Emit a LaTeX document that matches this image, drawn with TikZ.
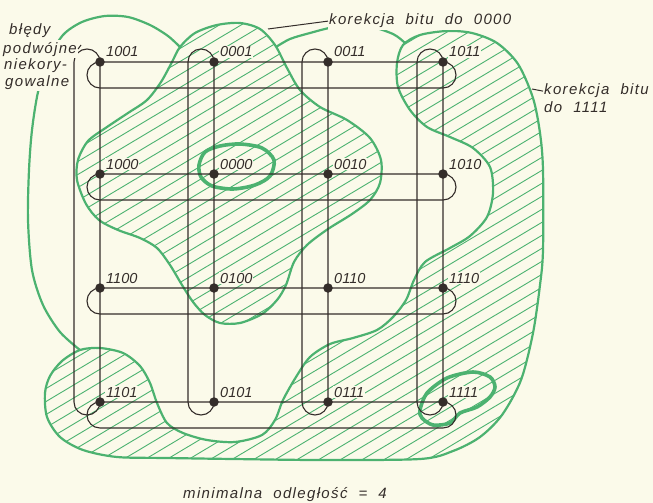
\documentclass[tikz,border=0pt]{standalone}
\usepackage{fontspec}
\setmainfont{Liberation Sans}
\newfontfamily\numfont{Liberation Sans}
\newfontfamily\txtfont[LetterSpace=9,WordSpace=2]{Liberation Sans}
\usetikzlibrary{calc}
\definecolor{bg}{RGB}{251,250,234}
\definecolor{ink}{RGB}{52,45,42}
\definecolor{grn}{RGB}{76,178,112}
\begin{document}
\begin{tikzpicture}[x=1pt,y=-1pt,
  grid/.style={draw=ink, line width=1.1pt, rounded corners=13pt},
  dot/.style={circle, fill=ink, inner sep=0pt, minimum size=9.5pt},
  num/.style={font=\numfont\itshape\fontsize{14.5}{15}\selectfont, text=ink, anchor=base west, inner sep=1pt, fill=bg},
  txt/.style={font=\txtfont\itshape\fontsize{15}{17}\selectfont, text=ink, anchor=base west, inner xsep=1pt, inner ysep=2pt, fill=bg},
  region/.style={draw=grn, line width=2.2pt},
  hatch/.style={draw=grn, line width=0.9pt},
  ring/.style={draw=grn, line width=3.6pt},
  lead/.style={draw=ink, line width=1pt}]
\useasboundingbox (0,0) rectangle (653,503);
\fill[bg] (0,0) rectangle (653,503);

% grid positions
\coordinate (p1001) at (100,62);  \coordinate (p0001) at (214,62);
\coordinate (p0011) at (328,62);  \coordinate (p1011) at (443,62);
\coordinate (p1000) at (100,174); \coordinate (p0000) at (214,174);
\coordinate (p0010) at (328,174); \coordinate (p1010) at (443,174);
\coordinate (p1100) at (100,288); \coordinate (p0100) at (214,288);
\coordinate (p0110) at (328,288); \coordinate (p1110) at (443,288);
\coordinate (p1101) at (100,402); \coordinate (p0101) at (214,402);
\coordinate (p0111) at (328,402); \coordinate (p1111) at (443,402);

% hatching of region "korekcja bitu do 0000"
\begin{scope}
\clip plot[smooth cycle] coordinates {(180,47) (195,33) (217,25) (240,23) (260,29) (275,45) (287,68) (300,90) (320,107) (347,120) (370,138) (381,160) (380,183) (370,200) (352,214) (328,229) (307,245) (294,262) (286,285) (277,300) (262,314) (240,323) (220,323) (205,315) (193,302) (182,285) (170,265) (157,248) (140,238) (118,230) (99,220) (86,204) (77,180) (78,160) (88,141) (107,127) (128,113) (147,100) (161,82) (172,62)};
\foreach \c in {0,13,...,910} \draw[hatch] (0,\c) -- (653,\c-390);
\end{scope}
% hatching of region "korekcja bitu do 1111"
\begin{scope}
\clip plot[smooth cycle] coordinates {(403,45) (420,35) (447,31) (472,33) (497,43) (518,64) (533,98) (540,133) (543,170) (543,250) (540,285) (533,333) (521,380) (502,415) (480,437) (453,451) (420,459) (320,460) (233,459) (167,458) (117,457) (83,450) (60,437) (47,417) (45,393) (50,376) (62,361) (80,350) (100,348) (123,353) (140,366) (150,383) (157,403) (167,423) (183,433) (207,440) (235,442) (262,435) (275,420) (283,400) (296,377) (310,357) (330,344) (353,338) (377,330) (393,317) (406,300) (414,280) (425,262) (450,248) (470,236) (487,217) (493,193) (490,167) (473,148) (450,137) (427,127) (410,110) (398,87) (397,63)};
\foreach \c in {0,13,...,910} \draw[hatch] (0,\c) -- (653,\c-390);
\end{scope}

% grid labels
\foreach \n in {1001,0001,0011,1011,1000,0000,0010,1010,1100,0100,0110,1110,1101,0101,0111,1111}
  \path (p\n) ++(5,-5) node[num] (t\n) {\n};

% green outlines
\draw[region] plot[smooth cycle] coordinates {(180,47) (195,33) (217,25) (240,23) (260,29) (275,45) (287,68) (300,90) (320,107) (347,120) (370,138) (381,160) (380,183) (370,200) (352,214) (328,229) (307,245) (294,262) (286,285) (277,300) (262,314) (240,323) (220,323) (205,315) (193,302) (182,285) (170,265) (157,248) (140,238) (118,230) (99,220) (86,204) (77,180) (78,160) (88,141) (107,127) (128,113) (147,100) (161,82) (172,62)};
\draw[region] plot[smooth cycle] coordinates {(403,45) (420,35) (447,31) (472,33) (497,43) (518,64) (533,98) (540,133) (543,170) (543,250) (540,285) (533,333) (521,380) (502,415) (480,437) (453,451) (420,459) (320,460) (233,459) (167,458) (117,457) (83,450) (60,437) (47,417) (45,393) (50,376) (62,361) (80,350) (100,348) (123,353) (140,366) (150,383) (157,403) (167,423) (183,433) (207,440) (235,442) (262,435) (275,420) (283,400) (296,377) (310,357) (330,344) (353,338) (377,330) (393,317) (406,300) (414,280) (425,262) (450,248) (470,236) (487,217) (493,193) (490,167) (473,148) (450,137) (427,127) (410,110) (398,87) (397,63)};
\draw[region] plot[smooth] coordinates {(80,350) (60,332) (43,305) (32,270) (28,220) (29,170) (32,130) (38,92) (48,60) (63,35) (82,22) (105,16) (128,17) (150,25) (168,36) (180,47)};
\draw[region] plot[smooth] coordinates {(276,47) (290,39) (310,33) (335,27) (367,26) (393,34) (405,43)};
\draw[ring] plot[smooth cycle] coordinates {(199,165) (205,152) (220,146) (240,144) (262,148) (274,160) (270,176) (255,185) (233,189) (212,186) (201,177)};
\draw[ring] plot[smooth cycle] coordinates {(420,410) (427,393) (447,378) (473,372) (490,377) (495,387) (490,397) (477,407) (460,413) (450,423) (433,425) (422,418)};

% row loops
\draw[grid] ($(p1001)+(-13,0)$) rectangle ($(p1011)+(13,26)$);
\draw[grid] ($(p1000)+(-13,0)$) rectangle ($(p1010)+(13,26)$);
\draw[grid] ($(p1100)+(-13,0)$) rectangle ($(p1110)+(13,26)$);
\draw[grid] ($(p1101)+(-13,0)$) rectangle ($(p1111)+(13,26)$);
% column loops
\draw[grid] ($(p1001)+(-26,-13)$) rectangle ($(p1101)+(0,13)$);
\draw[grid] ($(p0001)+(-26,-13)$) rectangle ($(p0101)+(0,13)$);
\draw[grid] ($(p0011)+(-26,-13)$) rectangle ($(p0111)+(0,13)$);
\draw[grid] ($(p1011)+(-26,-13)$) rectangle ($(p1111)+(0,13)$);

% dots
\foreach \n in {1001,0001,0011,1011,1000,0000,0010,1010,1100,0100,0110,1110,1101,0101,0111,1111}
  \node[dot] (d\n) at (p\n) {};

% texts
\node[txt] (k0) at (328,25) {korekcja bitu do 0000};
\coordinate (k0end) at (268,29);
\draw[lead] (k0end) -- (k0.west);
\node[txt] (k1a) at (543,95) {korekcja bitu};
\node[txt] (k1b) at (543,112) {do 1111};
\coordinate (k1end) at (532,89);
\draw[lead] (k1end) -- (k1a.west);
\node[txt] (b1) at (8,35) {błędy};
\node[txt] (b2) at (2,53) {podwójne};
\node[txt] (b3) at (3,70) {niekory-};
\node[txt] (b4) at (4,86) {gowalne};
\coordinate (b2end) at (81,45);
\draw[lead] (b2.east) -- (b2end);
\node[txt, fill=none] (mn) at (182,498) {minimalna odległość = 4};
\end{tikzpicture}
\end{document}
